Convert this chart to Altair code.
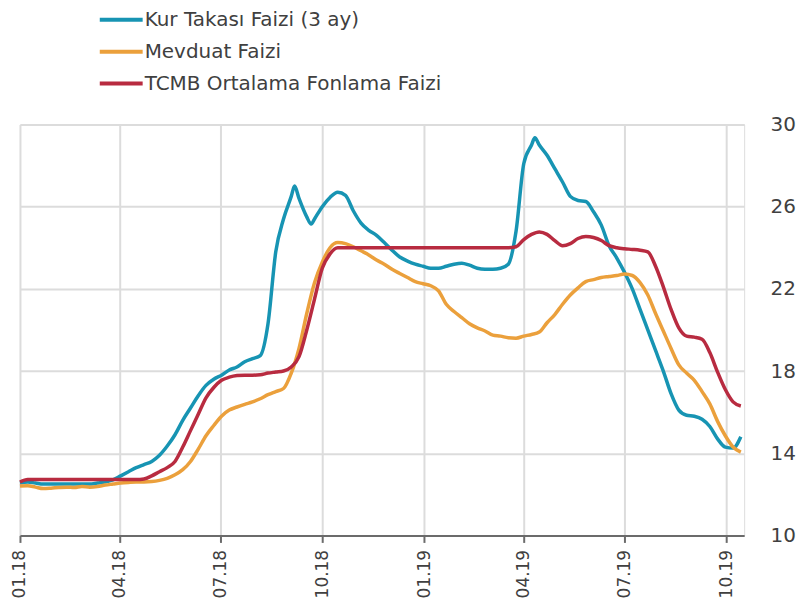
import altair as alt
import pandas as pd

# ---- data (weekly) ----
start = "2018-01-01"
n_weeks = 94
dates = pd.date_range(start, periods=n_weeks, freq="7D").strftime("%Y-%m-%d").tolist()

series = ["Kur Takası Faizi (3 ay)", "Mevduat Faizi", "TCMB Ortalama Fonlama Faizi"]
colors = ["#1794b3", "#eba03c", "#b82b40"]

kur_takasi = [
    12.55, 12.6, 12.55, 12.5, 12.5, 12.5, 12.5, 12.5, 12.5, 12.5,
    12.55, 12.6, 12.7, 12.9, 13.1, 13.3, 13.45, 13.6, 13.9, 14.35,
    14.9, 15.6, 16.2, 16.8, 17.3, 17.6, 17.8, 18.05, 18.2, 18.45,
    18.6, 18.75, 20.3, 23.8, 25.4, 26.5, 26.4, 25.5, 25.4, 26.0,
    26.45, 26.7, 26.55, 25.8, 25.2, 24.85, 24.6, 24.25, 23.88, 23.55,
    23.35, 23.2, 23.1, 23.0, 23.0, 23.1, 23.2, 23.25, 23.15, 23.0,
    22.95, 22.95, 23.0, 23.2, 24.8, 28.1, 29.0, 29.0, 28.5, 27.85,
    27.2, 26.5, 26.3, 26.25, 25.75, 25.1, 24.1, 23.5, 22.8, 22.0,
    21.0, 20.0, 19.0, 18.0, 16.9, 16.1, 15.85, 15.8, 15.65, 15.3,
    14.7, 14.3, 14.25, 14.8,
]
# extra readings of the Kur Takası line at its sharp turning points
kur_extra_dates = ["2018-09-06", "2018-09-21", "2019-04-11"]
kur_extra_values = [27.0, 25.15, 29.35]

mevduat = [
    12.4, 12.42, 12.35, 12.28, 12.3, 12.33, 12.35, 12.33, 12.38, 12.35,
    12.38, 12.45, 12.5, 12.55, 12.58, 12.6, 12.6, 12.62, 12.68, 12.78,
    12.95, 13.2, 13.6, 14.2, 14.85, 15.35, 15.8, 16.1, 16.25, 16.38,
    16.5, 16.65, 16.85, 17.0, 17.15, 17.9, 19.1, 20.8, 22.3, 23.3,
    24.0, 24.25, 24.2, 24.05, 23.85, 23.65, 23.4, 23.2, 22.95, 22.75,
    22.55, 22.35, 22.25, 22.15, 21.9, 21.25, 20.9, 20.6, 20.3, 20.1,
    19.95, 19.75, 19.7, 19.62, 19.6, 19.7, 19.78, 19.9, 20.35, 20.75,
    21.25, 21.7, 22.05, 22.35, 22.45, 22.55, 22.6, 22.65, 22.72, 22.65,
    22.3, 21.7, 20.8, 19.95, 19.1, 18.3, 17.9, 17.55, 17.0, 16.4,
    15.55, 14.85, 14.3, 14.05,
]
tcmb = [
    12.6, 12.72, 12.72, 12.72, 12.72, 12.72, 12.72, 12.72, 12.72, 12.72,
    12.72, 12.72, 12.72, 12.72, 12.72, 12.72, 12.75, 12.9, 13.1, 13.3,
    13.6, 14.3, 15.1, 15.9, 16.7, 17.2, 17.55, 17.7, 17.78, 17.8,
    17.8, 17.82, 17.9, 17.95, 18.0, 18.2, 18.7, 20.0, 21.5, 23.0,
    23.7, 24.0, 24.0, 24.0, 24.0, 24.0, 24.0, 24.0, 24.0, 24.0,
    24.0, 24.0, 24.0, 24.0, 24.0, 24.0, 24.0, 24.0, 24.0, 24.0,
    24.0, 24.0, 24.0, 24.0, 24.05, 24.4, 24.65, 24.77, 24.65, 24.35,
    24.1, 24.2, 24.45, 24.55, 24.5, 24.35, 24.1, 24.0, 23.95, 23.92,
    23.88, 23.8, 23.1, 22.1, 21.0, 20.1, 19.7, 19.65, 19.55, 18.9,
    17.95, 17.1, 16.5, 16.3,
]

y_ticks = [10, 14, 18, 22, 26, 30]
x_tick_dates = [(2018, 1), (2018, 4), (2018, 7), (2018, 10),
                (2019, 1), (2019, 4), (2019, 7), (2019, 10)]

# ---- build table ----
rows = []
for d, v in zip(dates + kur_extra_dates, kur_takasi + kur_extra_values):
    rows.append({"date": d, "series": series[0], "value": v})
for name, vals in zip(series[1:], [mevduat, tcmb]):
    for d, v in zip(dates, vals):
        rows.append({"date": d, "series": name, "value": v})
df = pd.DataFrame(rows).sort_values(["series", "date"]).reset_index(drop=True)

FONT = "DejaVu Sans"
TXT = "#404040"

x_enc = alt.X(
    "date:T",
    scale=alt.Scale(
        type="utc",
        domain=[alt.DateTime(year=2018, month=1, date=1, utc=True),
                alt.DateTime(year=2019, month=10, date=17, utc=True)],
    ),
    axis=alt.Axis(
        values=[alt.DateTime(year=y, month=m, date=1, utc=True) for y, m in x_tick_dates],
        format="%m.%y",
        labelAngle=270,
        labelFontSize=17,
        labelFont=FONT,
        labelColor=TXT,
        labelPadding=7,
        domainColor="#6b6b6b",
        domainWidth=2,
        tickColor="#6b6b6b",
        tickWidth=2,
        tickSize=7,
        grid=True,
        gridColor="#dcdcdc",
        gridWidth=2,
        title=None,
    ),
)

y_enc = alt.Y(
    "value:Q",
    scale=alt.Scale(domain=[10, 30], nice=False, zero=False),
    axis=alt.Axis(
        orient="right",
        values=y_ticks,
        labelFontSize=20,
        labelFont=FONT,
        labelColor=TXT,
        labelPadding=26,
        ticks=False,
        domain=False,
        grid=True,
        gridColor="#dcdcdc",
        gridWidth=2,
        title=None,
    ),
)

lines = alt.Chart(df).mark_line(strokeWidth=3.5, interpolate="monotone").encode(
    x=x_enc,
    y=y_enc,
    color=alt.Color("series:N", scale=alt.Scale(domain=series, range=colors), legend=None),
    detail="series:N",
    order="date:T",
)

# ---- manual legend (above the plot) ----
legend_layers = []
row_y = [-105, -73, -41]
for name, col, yy in zip(series, colors, row_y):
    one = alt.Chart(pd.DataFrame({"s": [name]}))
    legend_layers.append(
        one.mark_rule(strokeWidth=4, color=col).encode(
            x=alt.value(80), x2=alt.value(123), y=alt.value(yy)
        )
    )
    legend_layers.append(
        one.mark_text(align="left", baseline="middle", font=FONT, fontSize=20, color=TXT).encode(
            x=alt.value(125), y=alt.value(yy), text="s:N"
        )
    )

chart = alt.layer(lines, *legend_layers).properties(
    width=726,
    height=412,
    autosize=alt.AutoSizeParams(type="none"),
    padding={"left": 12, "top": 116, "right": 58, "bottom": 70},
).configure_view(strokeWidth=0).configure(background="white")

chart.save("out.html", embed_options={"renderer": "svg", "actions": False})
